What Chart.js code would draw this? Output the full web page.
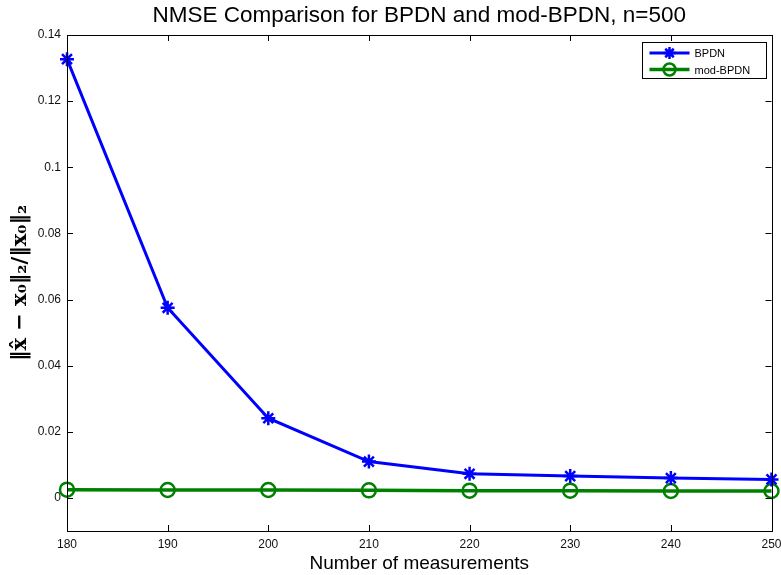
<!DOCTYPE html>
<html>
<head>
<meta charset="utf-8">
<script src="https://cdn.jsdelivr.net/npm/chart.js@4.4.1/dist/chart.umd.min.js"></script>
<style>
  html, body { margin: 0; padding: 0; background: #fff; }
  #wrap { width: 781px; height: 575px; }
</style>
</head>
<body>
<div id="wrap"><canvas id="nmseChart" width="781" height="575"></canvas></div>
<script>
// values
const measurements = [180, 190, 200, 210, 220, 230, 240, 250];
const bpdn = [0.1327, 0.0575, 0.0241, 0.0110, 0.0073, 0.0066, 0.0060, 0.0056];
const modBpdn = [0.0025, 0.0024, 0.0024, 0.0023, 0.0022, 0.0022, 0.0021, 0.0021];
const yTicks = [0, 0.02, 0.04, 0.06, 0.08, 0.1, 0.12, 0.14];
const xTicks = [180, 190, 200, 210, 220, 230, 240, 250];

const font = 'Liberation Sans, Arial, sans-serif';

// box round the plot + inward tick marks, matlab style
const boxPlugin = {
    id: 'box',
    afterDatasetsDraw(chart) {
        const { ctx, chartArea: a, scales } = chart;
        ctx.save();
        ctx.strokeStyle = '#000';
        ctx.lineWidth = 1;
        ctx.beginPath();
        scales.x.ticks.forEach(t => {
            let px = Math.round(scales.x.getPixelForValue(t.value)) + 0.5;
            ctx.moveTo(px, a.bottom); ctx.lineTo(px, a.bottom - 6);
            ctx.moveTo(px, a.top); ctx.lineTo(px, a.top + 6);
        });
        scales.y.ticks.forEach(t => {
            let py = Math.round(scales.y.getPixelForValue(t.value)) + 0.5;
            ctx.moveTo(a.left, py); ctx.lineTo(a.left + 6, py);
            ctx.moveTo(a.right, py); ctx.lineTo(a.right - 6, py);
        });
        ctx.stroke();
        ctx.strokeRect(Math.round(a.left) + 0.5, Math.round(a.top) + 0.5,
            Math.round(a.right - a.left), Math.round(a.bottom - a.top));
        ctx.restore();
    }
};

// legend box inside the axes, top right
const legendPlugin = {
    id: 'innerLegend',
    afterDraw(chart) {
        const { ctx, chartArea: a } = chart;
        const w = 124, h = 36;
        const x0 = a.right - 6 - w, y0 = a.top + 7;
        ctx.save();
        ctx.fillStyle = '#fff';
        ctx.fillRect(x0, y0, w, h);
        ctx.strokeStyle = '#000';
        ctx.lineWidth = 1;
        ctx.strokeRect(Math.round(x0) + 0.5, Math.round(y0) + 0.5, w, h);
        chart.data.datasets.forEach((ds, i) => {
            const y = y0 + 11 + i * 16.5;
            ctx.strokeStyle = ds.borderColor;
            ctx.lineWidth = ds.borderWidth;
            ctx.beginPath();
            ctx.moveTo(x0 + 8, y); ctx.lineTo(x0 + 48, y);
            ctx.stroke();
            ctx.lineWidth = ds.pointBorderWidth;
            ctx.strokeStyle = ds.pointBorderColor;
            ctx.fillStyle = 'rgba(0,0,0,0)';
            Chart.helpers.drawPoint(ctx, { pointStyle: ds.pointStyle, radius: 6, rotation: 0, borderWidth: ds.pointBorderWidth }, x0 + 28, y);
            ctx.fillStyle = '#000';
            ctx.font = '11px ' + font;
            ctx.textBaseline = 'middle';
            ctx.fillText(ds.label, x0 + 53, y + 1);
        });
        ctx.restore();
    }
};

let ctx = document.getElementById('nmseChart').getContext('2d');
let nmseChart = new Chart(ctx, {
    type: 'line',
    data: {
        datasets: [{
            label: 'BPDN',
            data: measurements.map((m, i) => ({ x: m, y: bpdn[i] })),
            borderColor: '#0000ff',
            backgroundColor: '#0000ff',
            borderWidth: 3,
            pointStyle: 'star',
            pointRadius: 7,
            pointBorderWidth: 2.5,
            pointBorderColor: '#0000ff',
            tension: 0
        }, {
            label: 'mod-BPDN',
            data: measurements.map((m, i) => ({ x: m, y: modBpdn[i] })),
            borderColor: '#008000',
            backgroundColor: 'rgba(0,0,0,0)',
            borderWidth: 3.5,
            pointStyle: 'circle',
            pointRadius: 7,
            pointBorderWidth: 2.5,
            pointBorderColor: '#008000',
            pointBackgroundColor: 'rgba(0,0,0,0)',
            tension: 0
        }]
    },
    options: {
        responsive: false,
        animation: false,
        clip: false,
        layout: { padding: { right: 9, left: 0, bottom: 0, top: 0 } },
        plugins: {
            legend: { display: false },
            tooltip: { enabled: false },
            title: {
                display: true,
                fullSize: false,
                text: 'NMSE Comparison for BPDN and mod-BPDN, n=500',
                color: '#000',
                font: { family: font, size: 22.5, weight: 'normal' },
                padding: { top: 2.5, bottom: 5.5 }
            }
        },
        scales: {
            x: {
                type: 'linear',
                min: 180,
                max: 250,
                afterBuildTicks: s => { s.ticks = xTicks.map(v => ({ value: v })); },
                afterFit: s => { s.height = 44; s.paddingRight = 0; s.paddingLeft = 0; },
                grid: { display: false, drawTicks: false },
                border: { display: false },
                ticks: {
                    color: '#111',
                    padding: 6,
                    maxRotation: 0,
                    font: { family: font, size: 12 }
                },
                title: {
                    display: true,
                    text: 'Number of measurements',
                    color: '#000',
                    font: { family: font, size: 19 },
                    padding: { top: 0, bottom: 0 }
                }
            },
            y: {
                min: -0.01,
                max: 0.14,
                afterBuildTicks: s => { s.ticks = yTicks.map(v => ({ value: v })); },
                afterFit: s => { s.width = 67; },
                grid: { display: false, drawTicks: false },
                border: { display: false },
                ticks: {
                    color: '#111',
                    padding: 6,
                    font: { family: font, size: 12 },
                    callback: v => String(+v.toFixed(2))
                },
                title: {
                    display: true,
                    text: '\u2016x\u0302 \u2212 x\u2080\u2016\u2082/\u2016x\u2080\u2016\u2082',
                    color: '#000',
                    font: { family: 'DejaVu Serif, serif', size: 21, weight: 'bold' },
                    padding: { top: 8, bottom: 0 }
                }
            }
        }
    },
    plugins: [boxPlugin, legendPlugin]
});
</script>
</body>
</html>
